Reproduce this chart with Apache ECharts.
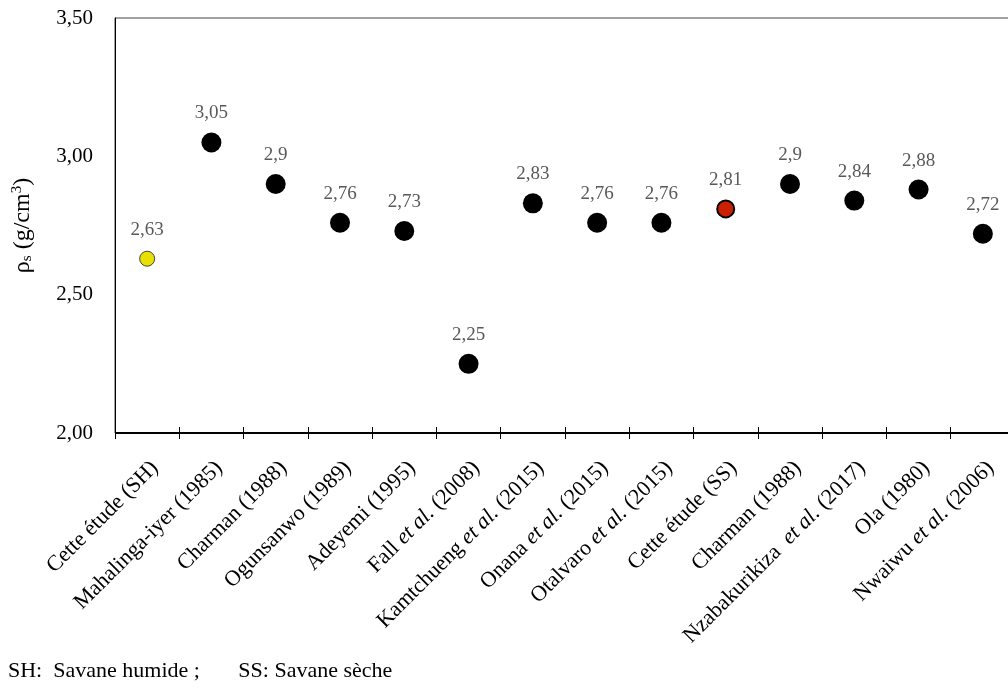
<!DOCTYPE html>
<html>
<head>
<meta charset="utf-8">
<script src="https://cdn.jsdelivr.net/npm/echarts@6/dist/echarts.min.js"></script>
<style>html,body{margin:0;padding:0;background:#fff;}#c{width:1008px;height:692px;}</style>
</head>
<body>
<div id="c"></div>
<script>
const categories = ["Cette étude (SH)", "Mahalinga-iyer (1985)", "Charman (1988)", "Ogunsanwo (1989)", "Adeyemi (1995)", "Fall {i|et al.} (2008)", "Kamtchueng {i|et al.} (2015)", "Onana {i|et al.} (2015)", "Otalvaro {i|et al.} (2015)", "Cette étude (SS)", "Charman (1988)", "Nzabakurikiza  {i|et al.} (2017)", "Ola (1980)", "Nwaiwu {i|et al.} (2006)"];
const values = [2.63, 3.05, 2.90, 2.76, 2.73, 2.25, 2.83, 2.76, 2.76, 2.81, 2.90, 2.84, 2.88, 2.72];
const valueLabels = ["2,63", "3,05", "2,9", "2,76", "2,73", "2,25", "2,83", "2,76", "2,76", "2,81", "2,9", "2,84", "2,88", "2,72"];
const yTicks = ["2,00", "2,50", "3,00", "3,50"];

const FONT = "'Liberation Serif', 'Times New Roman', serif";
const SH = 0, SS = 9;
const seriesData = values.map((v, i) => {
  const d = { value: v };
  if (i === SH) { d.symbolSize = 15; d.itemStyle = { color: '#e8e000', borderColor: '#444', borderWidth: 1 }; }
  else if (i === SS) { d.symbolSize = 17; d.itemStyle = { color: '#c82000', borderColor: '#000', borderWidth: 2 }; }
  return d;
});

const chart = echarts.init(document.getElementById('c'));
chart.setOption({
  animation: false,
  grid: { left: 115, top: 18, width: 900, bottom: 259, show: true, borderColor: '#444', borderWidth: 1, outerBoundsMode: 'none', containLabel: false },
  xAxis: {
    type: 'category', data: categories, boundaryGap: true, offset: -6,
    axisLine: { show: false, onZero: false },
    axisTick: { show: true, interval: 0, length: 12, lineStyle: { color: '#000', width: 1 } },
    axisLabel: {
      rotate: 45, interval: 0, margin: 30, color: '#000', fontFamily: FONT, fontSize: 22,
      verticalAlign: 'top',
      rich: { i: { fontStyle: 'italic', fontFamily: FONT, fontSize: 22, color: '#000' } }
    }
  },
  yAxis: {
    type: 'value', min: 2, max: 3.5, interval: 0.5,
    name: '{a|ρ}{s|s}{a| (g/cm}{p|3}{a|)}', nameLocation: 'middle', nameGap: 80, nameRotate: 90,
    nameTextStyle: {
      rich: {
        a: { fontFamily: FONT, fontSize: 24, color: '#000' },
        s: { fontFamily: FONT, fontSize: 15, color: '#000', verticalAlign: 'bottom', padding: [10, 0, 0, 0] },
        p: { fontFamily: FONT, fontSize: 15, color: '#000', verticalAlign: 'top', padding: [0, 0, 10, 0] }
      }
    },
    axisLine: { show: true, lineStyle: { color: '#000', width: 1 } },
    axisTick: { show: false },
    splitLine: { show: false },
    axisLabel: {
      color: '#000', fontFamily: FONT, fontSize: 21, margin: 22,
      formatter: v => yTicks[Math.round((v - 2) / 0.5)]
    }
  },
  series: [{
    type: 'scatter', data: seriesData, symbol: 'circle', symbolSize: 20,
    itemStyle: { color: '#000', opacity: 1 },
    label: {
      show: true, position: 'inside', offset: [0, -29], color: '#595959', fontFamily: FONT, fontSize: 19,
      formatter: p => valueLabels[p.dataIndex]
    },
    markLine: {
      silent: true, animation: false, symbol: ['none', 'none'],
      label: { show: false },
      lineStyle: { color: '#000', width: 2, type: 'solid' },
      emphasis: { disabled: true },
      data: [{ yAxis: 2 }]
    }
  }],
  graphic: [{
    type: 'text', left: 8, top: 660,
    style: { text: 'SH:  Savane humide ;       SS: Savane sèche', font: "22px 'Liberation Serif', serif", fill: '#000' }
  }]
});
</script>
</body>
</html>
